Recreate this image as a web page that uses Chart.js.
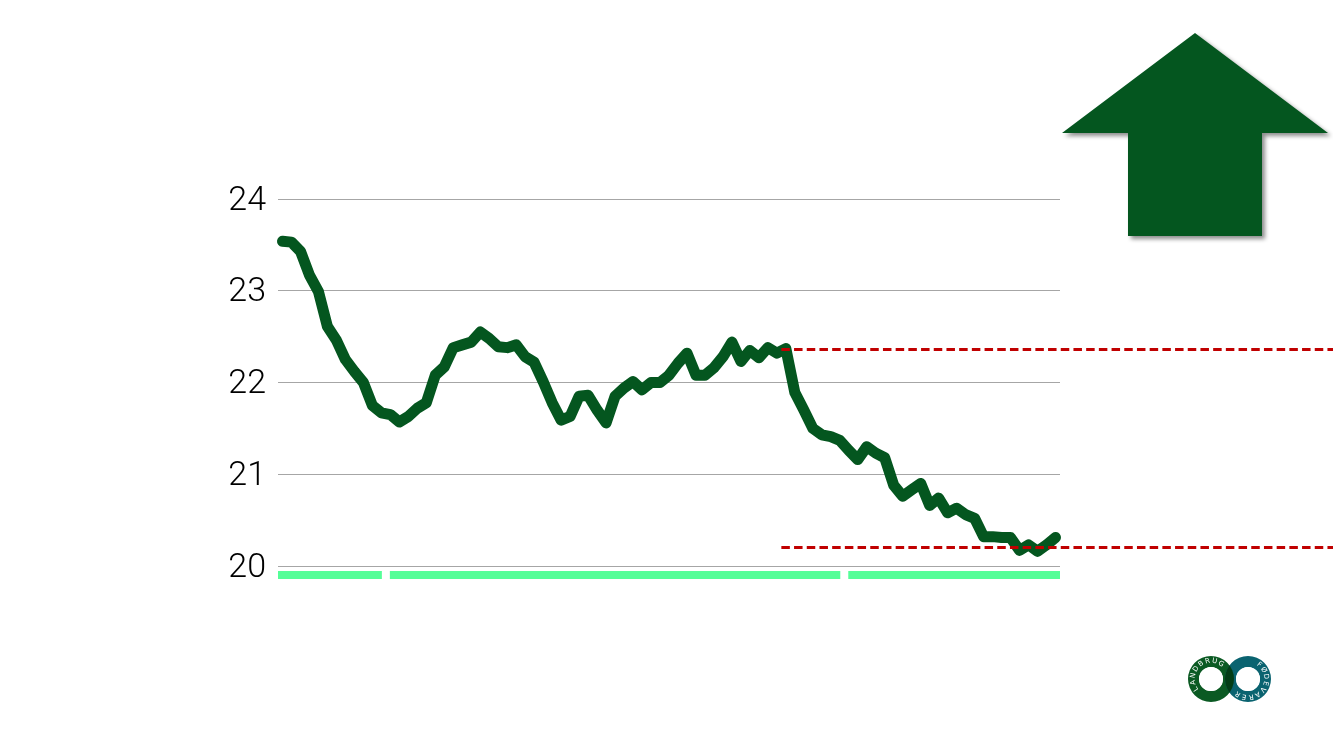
<!DOCTYPE html>
<html>
<head>
<meta charset="utf-8">
<script src="https://cdn.jsdelivr.net/npm/chart.js@4"></script>
<style>
  html, body { margin: 0; padding: 0; background: #fff; }
  #wrap { width: 1333px; height: 750px; }
</style>
</head>
<body>
<div id="wrap"><canvas id="chart"></canvas></div>
<script>
// monthly values
const values = [
  23.54, 23.53, 23.43, 23.17, 22.99, 22.61, 22.46, 22.25, 22.12, 22.00,
  21.75, 21.67, 21.65, 21.57, 21.63, 21.72, 21.78, 22.08, 22.17, 22.38,
  22.41, 22.44, 22.55, 22.48, 22.39, 22.38, 22.41, 22.28, 22.22, 22.01,
  21.78, 21.59, 21.63, 21.85, 21.86, 21.70, 21.56, 21.85, 21.94, 22.01,
  21.92, 22.00, 22.00, 22.08, 22.21, 22.32, 22.08, 22.08, 22.16, 22.28,
  22.44, 22.23, 22.35, 22.27, 22.38, 22.32, 22.37, 21.89, 21.70, 21.50,
  21.43, 21.41, 21.37, 21.26, 21.16, 21.30, 21.23, 21.18, 20.88, 20.76,
  20.83, 20.90, 20.66, 20.74, 20.58, 20.63, 20.56, 20.52, 20.32, 20.32,
  20.31, 20.31, 20.17, 20.23, 20.16, 20.23, 20.31
];
const categories = values.map((v, i) => String(i + 1));
const periodSizes = [12, 51, 24];        // green period bars under the axis
const refLevels = [22.37, 20.21];        // red dashed reference lines
const refStart = 56;                     // category where the reference lines begin
const yTicks = [20, 21, 22, 23, 24];

const green = '#04561f';

const extras = {
  id: 'extras',
  afterDatasetsDraw(chart) {
    const { ctx, scales: { x, y } } = chart;
    const w = x.getPixelForValue(1) - x.getPixelForValue(0);
    const x0 = x.getPixelForValue(refStart) - w / 2;
    ctx.save();
    ctx.strokeStyle = '#c00000';
    ctx.lineWidth = 3;
    ctx.setLineDash([8.5, 4.2]);
    refLevels.forEach(v => {
      const py = Math.round(y.getPixelForValue(v)) + 0.5;
      ctx.beginPath();
      ctx.moveTo(x0, py);
      ctx.lineTo(chart.width, py);
      ctx.stroke();
    });
    ctx.restore();
  },
  afterDraw(chart) {
    const { ctx, scales: { x, y } } = chart;
    const w = x.getPixelForValue(1) - x.getPixelForValue(0);
    // period bars
    ctx.save();
    ctx.fillStyle = '#55fe98';
    let start = 0;
    periodSizes.forEach((n, k) => {
      let l = x.getPixelForValue(start) - w / 2;
      let r = x.getPixelForValue(start + n - 1) + w / 2;
      if (k > 0) l += 4;
      if (k < periodSizes.length - 1) r -= 4;
      ctx.fillRect(l, y.bottom + 5, r - l, 8);
      start += n;
    });
    ctx.restore();

    // arrow
    ctx.save();
    ctx.shadowColor = 'rgba(0,0,0,0.45)';
    ctx.shadowBlur = 4;
    ctx.shadowOffsetX = 3;
    ctx.shadowOffsetY = 3;
    ctx.fillStyle = green;
    ctx.beginPath();
    ctx.moveTo(1195, 33);
    ctx.lineTo(1328, 133);
    ctx.lineTo(1262, 133);
    ctx.lineTo(1262, 236);
    ctx.lineTo(1128, 236);
    ctx.lineTo(1128, 133);
    ctx.lineTo(1062, 133);
    ctx.closePath();
    ctx.fill();
    ctx.restore();

    // logo
    const ring = (cx, cy, col) => {
      ctx.beginPath();
      ctx.arc(cx, cy, 23, 0, Math.PI * 2);
      ctx.arc(cx, cy, 12, 0, Math.PI * 2, true);
      ctx.fillStyle = col;
      ctx.fill('evenodd');
    };
    const arcText = (text, cx, cy, r, startAng, endAng) => {
      ctx.save();
      ctx.fillStyle = '#fff';
      ctx.font = '7px "DejaVu Sans"';
      ctx.textAlign = 'center';
      ctx.textBaseline = 'middle';
      const n = text.length;
      for (let i = 0; i < n; i++) {
        const a = startAng + (endAng - startAng) * (i + 0.5) / n;
        ctx.save();
        ctx.translate(cx + r * Math.cos(a), cy + r * Math.sin(a));
        ctx.rotate(a + Math.PI / 2);
        ctx.fillText(text[i], 0, 0);
        ctx.restore();
      }
      ctx.restore();
    };
    ctx.save();
    ring(1211, 679, '#0b5a23');
    ring(1248, 679, '#0a6370');
    ctx.beginPath();
    ctx.arc(1211, 679, 23, 0, Math.PI * 2);
    ctx.clip();
    ctx.beginPath();
    ctx.arc(1248, 679, 23, 0, Math.PI * 2);
    ctx.arc(1248, 679, 12, 0, Math.PI * 2, true);
    ctx.fillStyle = '#033d16';
    ctx.fill('evenodd');
    ctx.restore();
    ctx.save();
    ctx.beginPath();
    ctx.arc(1211, 679, 12, 0, Math.PI * 2);
    ctx.arc(1248, 679, 12, 0, Math.PI * 2);
    ctx.fillStyle = '#fff';
    ctx.fill();
    ctx.restore();
    arcText('LANDBRUG', 1211, 679, 18, Math.PI * 0.75, Math.PI * 1.75);
    arcText('FØDEVARER', 1248, 679, 18, -Math.PI * 0.35, Math.PI * 0.75);
  }
};

new Chart(document.getElementById('chart'), {
  type: 'line',
  data: {
    labels: categories,
    datasets: [{
      data: values,
      borderColor: green,
      borderWidth: 11,
      borderCapStyle: 'round',
      borderJoinStyle: 'round',
      pointRadius: 0,
      tension: 0,
      fill: false
    }]
  },
  options: {
    responsive: true,
    maintainAspectRatio: false,
    animation: false,
    layout: { padding: { left: 0, right: 273, top: 199, bottom: 184 } },
    plugins: { legend: { display: false }, tooltip: { enabled: false } },
    scales: {
      x: {
        type: 'category',
        offset: true,
        display: false
      },
      y: {
        min: 20,
        max: 24,
        afterFit(scale) { scale.width = 278; },
        afterBuildTicks(scale) { scale.ticks = yTicks.map(v => ({ value: v })); },
        border: { display: false },
        grid: { color: '#a6a6a6', lineWidth: 1, drawTicks: false },
        ticks: {
          color: '#000',
          padding: 12,
          labelOffset: 2,
          font: { family: 'Roboto', size: 34, weight: 300 }
        }
      }
    }
  },
  plugins: [extras]
});
</script>
</body>
</html>
